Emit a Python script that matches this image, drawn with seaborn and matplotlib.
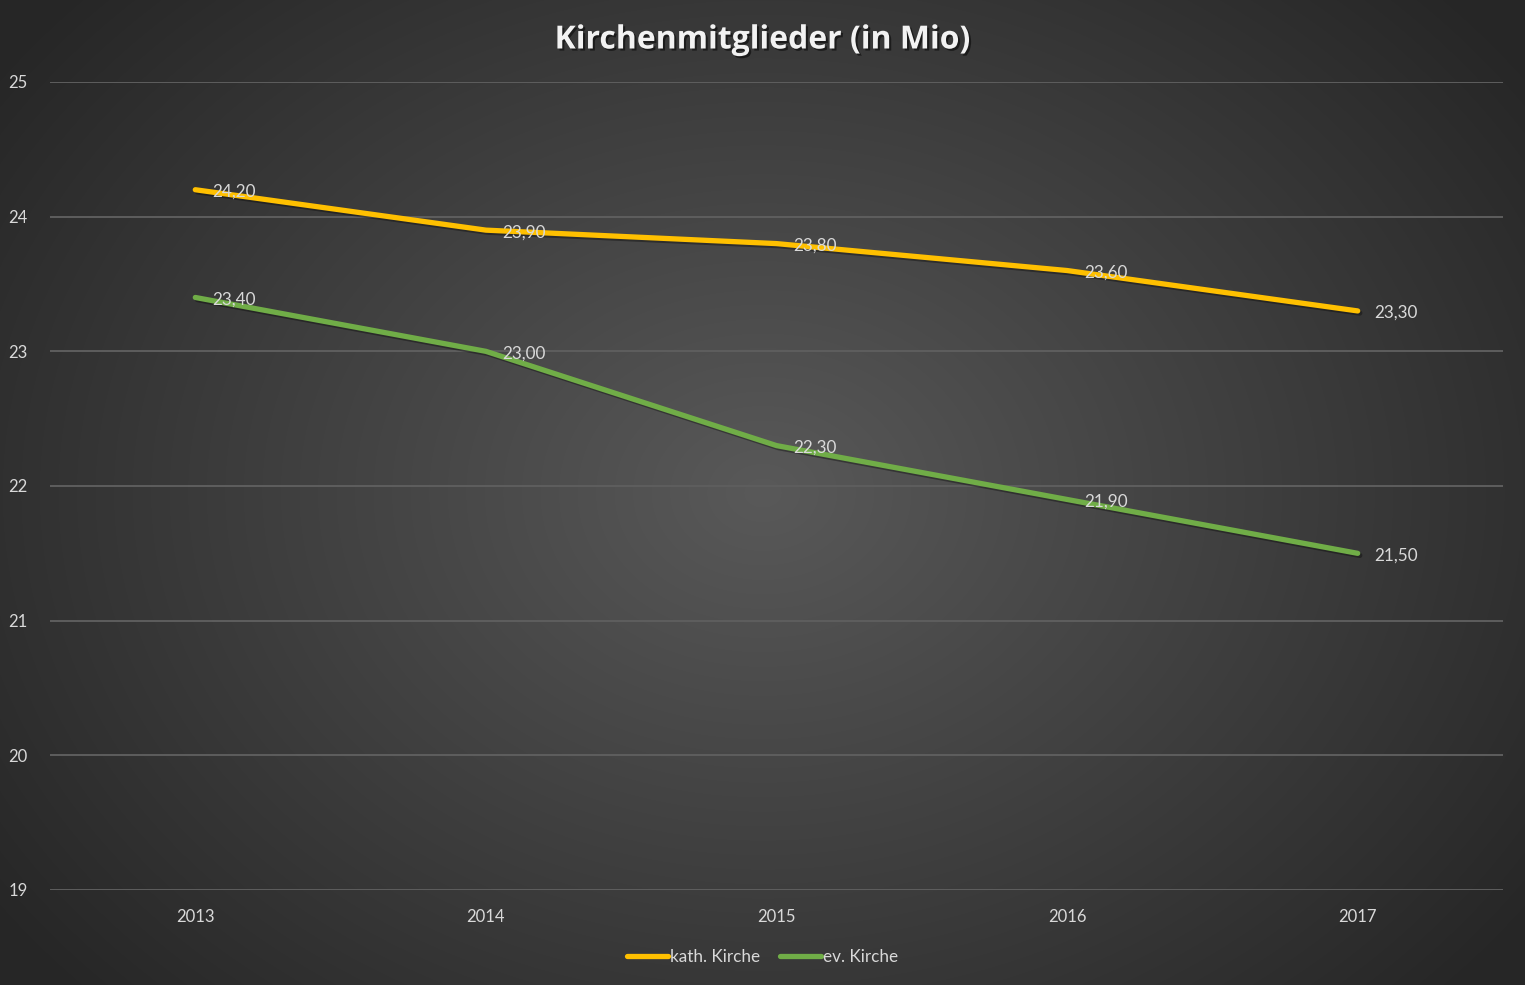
import numpy as np
import pandas as pd
import matplotlib
matplotlib.use("Agg")
import matplotlib.pyplot as plt
import matplotlib.patheffects as pe
import seaborn as sns
from matplotlib.lines import Line2D

years = ["2013", "2014", "2015", "2016", "2017"]
kath = [24.2, 23.9, 23.8, 23.6, 23.3]
ev = [23.4, 23.0, 22.3, 21.9, 21.5]
series_names = ["kath. Kirche", "ev. Kirche"]
colors = ["#FFC000", "#70AD47"]
title = "Kirchenmitglieder (in Mio)"
yticks = [19, 20, 21, 22, 23, 24, 25]

df = pd.DataFrame({
    "Jahr": years * 2,
    "Wert": kath + ev,
    "Serie": [series_names[0]] * len(years) + [series_names[1]] * len(years),
})

sns.set_theme(style="white")
plt.rcParams["font.family"] = ["Lato", "DejaVu Sans"]

W, H = 1525, 985
fig = plt.figure(figsize=(W / 100, H / 100), dpi=100)

# radial gradient background
bg = fig.add_axes([0, 0, 1, 1], zorder=-10)
yy, xx = np.mgrid[0:H, 0:W]
r = np.sqrt(((xx - W * 0.5) / (W * 0.62)) ** 2 + ((yy - H * 0.5) / (H * 0.75)) ** 2)
r = np.clip(r, 0, 1)
c_in = np.array([0x59, 0x59, 0x59]) / 255
c_out = np.array([0x26, 0x26, 0x26]) / 255
img = c_in[None, None, :] * (1 - r[..., None]) + c_out[None, None, :] * r[..., None]
bg.imshow(img, aspect="auto", extent=[0, 1, 0, 1])
bg.axis("off")

ax = fig.add_axes([50 / W, 1 - 890 / H, (1503 - 50) / W, (890 - 82) / H])
ax.set_facecolor("none")

sns.lineplot(data=df, x="Jahr", y="Wert", hue="Serie", palette=colors,
             linewidth=3.8, ax=ax, legend=False, sort=False,
             solid_capstyle="round", solid_joinstyle="round")
for ln in ax.lines:
    ln.set_path_effects([pe.SimpleLineShadow(offset=(1.5, -1.5), alpha=0.35, shadow_color="black"),
                         pe.Normal()])
    ln.set_zorder(3)

ax.set_xlim(-0.5, len(years) - 0.5)
ax.set_ylim(19, 25)
ax.set_yticks(yticks)
ax.set_yticklabels([str(t) for t in yticks])
ax.grid(axis="y", color="#5E5E5E", linewidth=1.4)
ax.grid(axis="x", visible=False)
ax.set_axisbelow(True)
for s in ax.spines.values():
    s.set_visible(False)
ax.tick_params(axis="both", length=0, colors="#D9D9D9", labelsize=12)
ax.tick_params(axis="y", pad=16)
ax.tick_params(axis="x", pad=14)
ax.set_xlabel("")
ax.set_ylabel("")

def fmt(v):
    return f"{v:.2f}".replace(".", ",")

for vals in (kath, ev):
    for i, v in enumerate(vals):
        ax.annotate(fmt(v), (i, v), xytext=(12, -1.5), textcoords="offset points",
                    ha="left", va="center", color="#D9D9D9", fontsize=12.3, zorder=5)

fig.text(0.5, 1 - 40 / H, title, ha="center", va="center", color="#F2F2F2",
         fontsize=23, fontweight="bold", family=["Open Sans", "DejaVu Sans"],
         path_effects=[pe.withSimplePatchShadow(offset=(1.5, -1.5), alpha=0.5, shadow_rgbFace="black")])

handles = [Line2D([0], [0], color=c, linewidth=3.8, solid_capstyle="round") for c in colors]
leg = fig.legend(handles, series_names, loc="center", bbox_to_anchor=(0.5, 1 - 957 / H),
                 ncol=2, frameon=False, fontsize=12.3, handlelength=2.4, handletextpad=0.1,
                 columnspacing=1.2)
for t in leg.get_texts():
    t.set_color("#D9D9D9")

fig.savefig("out.png", dpi=100)
